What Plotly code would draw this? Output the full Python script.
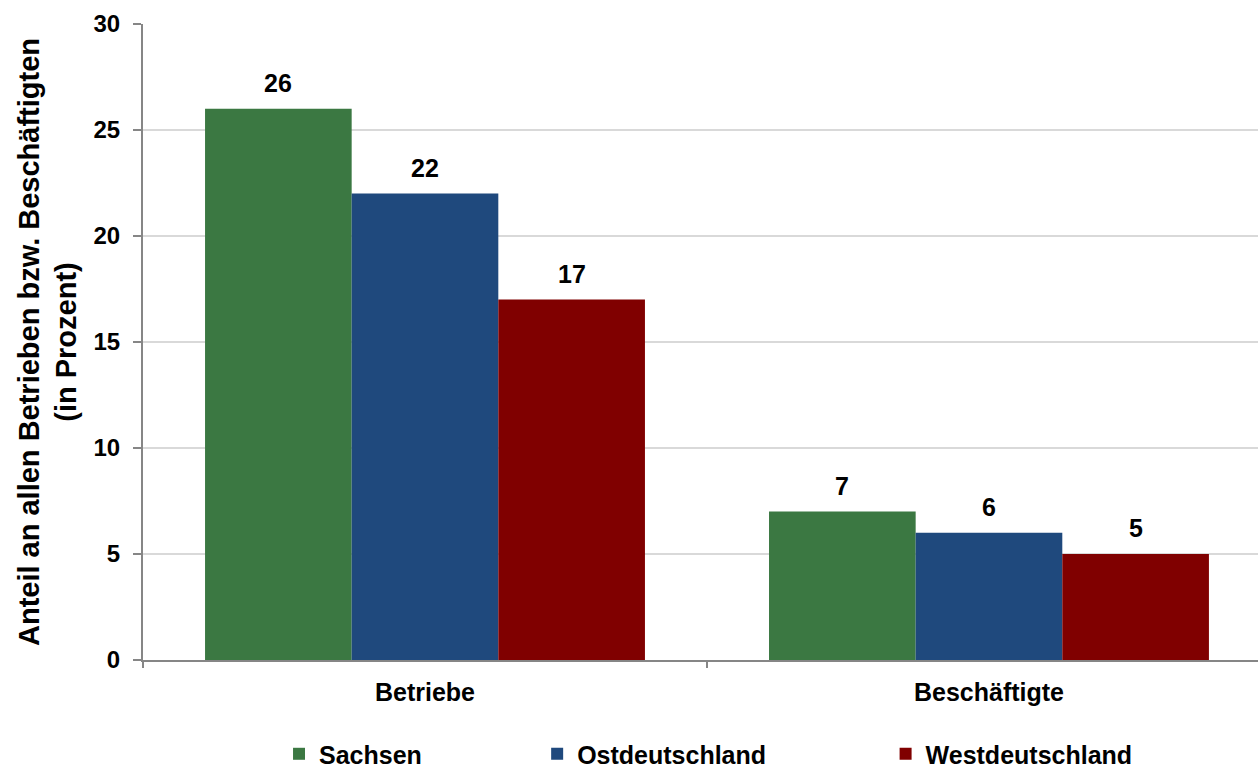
import plotly.graph_objects as go

categories = ["Betriebe", "Beschäftigte"]
series_names = ["Sachsen", "Ostdeutschland", "Westdeutschland"]
sachsen = [26, 7]
ost = [22, 6]
west = [17, 5]
colors = ["#3b7842", "#1f497d", "#800000"]
y_ticks = [0, 5, 10, 15, 20, 25, 30]

FONT = "Liberation Sans, Arial, sans-serif"
values = [sachsen, ost, west]

fig = go.Figure()
legend_ids = ["legend", "legend2", "legend3"]
for i, (name, vals, col) in enumerate(zip(series_names, values, colors)):
    fig.add_trace(go.Bar(
        name=name, x=categories, y=vals, marker=dict(color=col, line=dict(width=0)),
        legend=legend_ids[i], cliponaxis=False, showlegend=True,
    ))

# data labels above bars
n = len(series_names)
bargap = 0.22
bw = (1 - bargap) / n
for i, vals in enumerate(values):
    for j, v in enumerate(vals):
        fig.add_annotation(
            x=j + (i - (n - 1) / 2) * bw, y=v, xref="x", yref="y",
            text=f"<b>{v}</b>", showarrow=False, yanchor="bottom", yshift=10,
            font=dict(family=FONT, size=25, color="#000000"),
        )

leg_common = dict(orientation="h", yref="container", yanchor="middle", y=0.022, xanchor="left",
                  font=dict(family=FONT, size=25, color="#000000", weight="bold"),
                  bgcolor="rgba(0,0,0,0)", borderwidth=0, itemwidth=30)

fig.update_layout(
    width=1258, height=771,
    margin=dict(l=143, r=0, t=24, b=111),
    plot_bgcolor="white", paper_bgcolor="white",
    barmode="group", bargap=bargap, bargroupgap=0,
    showlegend=True,
    font=dict(family=FONT, size=24, color="#000000"),
    legend=dict(**leg_common, x=0.122),
    legend2=dict(**leg_common, x=0.3535),
    legend3=dict(**leg_common, x=0.666),
    xaxis=dict(
        type="category", range=[-0.5, 1.477], showline=True, linecolor="#868686", linewidth=2,
        ticks="outside", tickson="boundaries", ticklen=6, tickcolor="#868686", tickwidth=2,
        tickfont=dict(family=FONT, size=25, color="#000000"),
        ticklabelstandoff=9, showgrid=False,
        tickvals=categories, ticktext=[f"<b>{c}</b>" for c in categories],
    ),
    yaxis=dict(
        range=[0, 30], tickvals=y_ticks, ticktext=[f"<b>{t}</b>" for t in y_ticks],
        showline=True, linecolor="#868686", linewidth=2,
        ticks="outside", ticklen=8, tickcolor="#868686", tickwidth=2,
        tickfont=dict(family=FONT, size=24, color="#000000"),
        ticklabelstandoff=8,
        showgrid=True, gridcolor="#d9d9d9", gridwidth=1.5, zeroline=False,
        title=dict(text="<b>Anteil an allen Betrieben bzw. Beschäftigten<br>(in Prozent)</b>",
                   font=dict(family=FONT, size=29, color="#000000"), standoff=8),
    ),
)

fig.write_html("out.html")
